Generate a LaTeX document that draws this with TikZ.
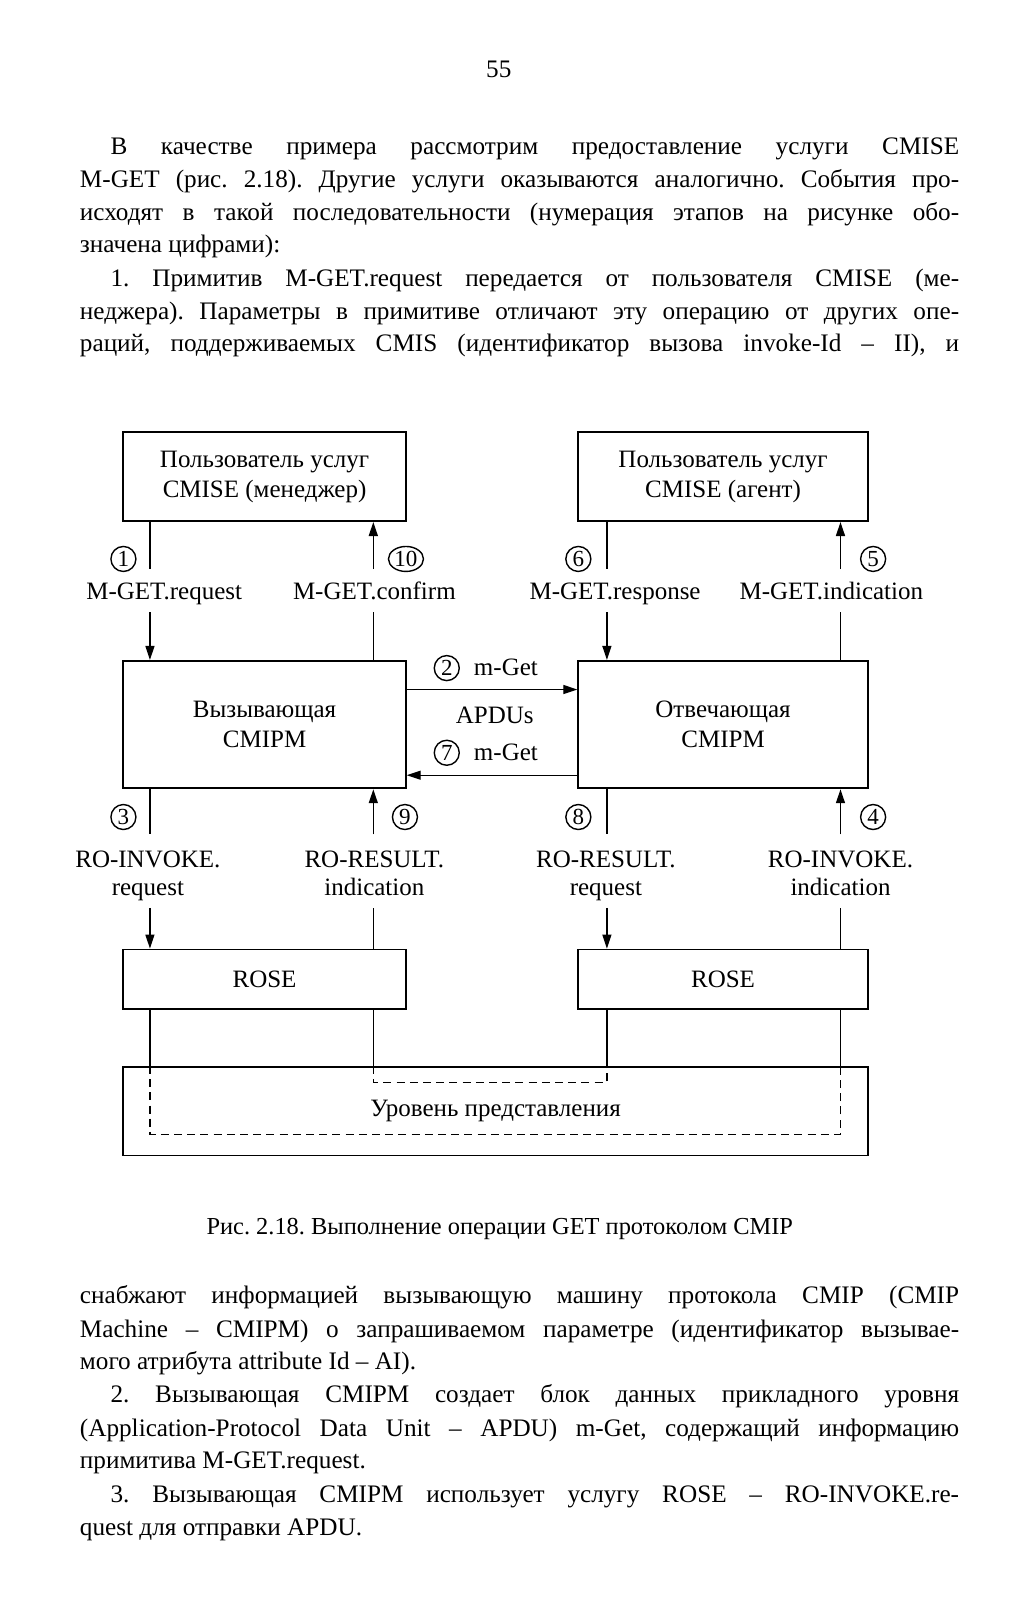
\documentclass[tikz,border=0pt]{standalone}
\usepackage{fontspec}
\setmainfont{Liberation Serif}
\usetikzlibrary{arrows.meta,shapes.geometric}
\frenchspacing
\begin{document}
\begin{tikzpicture}[x=0.51pt,y=-0.51pt,
  box/.style={draw,line width=0.9pt,inner sep=0pt,align=center,anchor=north west,font=\fontsize{12.5}{15}\selectfont},
  lbl/.style={anchor=base,inner sep=0pt,font=\fontsize{12.5}{14.5}\selectfont},
  num/.style={draw,circle,line width=0.7pt,inner sep=0pt,minimum size=12.5pt,font=\fontsize{11.5}{11.5}\selectfont},
  numw/.style={draw,ellipse,line width=0.7pt,inner sep=0pt,minimum width=17.5pt,minimum height=12.5pt,font=\fontsize{11.5}{11.5}\selectfont},
  conn/.style={line width=0.65pt},
  arr/.style={conn,-{Triangle[length=7pt,width=4.5pt]}},
  dsh/.style={line width=0.65pt,dash pattern=on 4pt off 2.6pt},
  body/.style={anchor=base west,inner sep=0pt,font=\fontsize{12.6}{14}\selectfont},
]
\useasboundingbox[fill=white] (0,0) rectangle (996.08,1568.63);

% page number and text
\node[anchor=base,inner sep=0pt,font=\fontsize{12.6}{14}\selectfont] (pg) at (489,76) {55};
\node[body] (t1) at (108,151) {\makebox[424.3pt][s]{В качестве примера рассмотрим предоставление услуги CMISE}};
\node[body] (t2) at (78,184) {\makebox[439.6pt][s]{M-GET (рис. 2.18). Другие услуги оказываются аналогично. События про-}};
\node[body] (t3) at (78,216) {\makebox[439.6pt][s]{исходят в такой последовательности (нумерация этапов на рисунке обо-}};
\node[body] (t4) at (78,248) {значена цифрами):};
\node[body] (t5) at (108,281) {\makebox[424.3pt][s]{1. Примитив M-GET.request передается от пользователя CMISE (ме-}};
\node[body] (t6) at (78,313) {\makebox[439.6pt][s]{неджера). Параметры в примитиве отличают эту операцию от других опе-}};
\node[body] (t7) at (78,345) {\makebox[439.6pt][s]{раций, поддерживаемых CMIS (идентификатор вызова invoke-Id – II), и}};

% boxes
\node[box,minimum width=141.27pt,minimum height=44.37pt] (A) at (120,423) {Пользователь услуг\\CMISE (менеджер)};
\node[box,minimum width=144.84pt,minimum height=44.37pt] (B) at (566,423) {Пользователь услуг\\CMISE (агент)};
\node[box,minimum width=141.27pt,minimum height=63.75pt] (C) at (120,647) {Вызывающая\\CMIPM};
\node[box,minimum width=144.84pt,minimum height=63.75pt] (D) at (566,647) {Отвечающая\\CMIPM};
\node[box,minimum width=141.27pt,minimum height=29.58pt] (E) at (120,930) {ROSE};
\node[box,minimum width=144.84pt,minimum height=29.58pt] (F) at (566,930) {ROSE};
\node[box,minimum width=372.3pt,minimum height=44.37pt] (G) at (120,1045) {Уровень представления};

% labels row 1
\node[num] (n1) at (121,548) {1};
\node[numw] (n10) at (398,548) {10};
\node[num] (n6) at (567,548) {6};
\node[num] (n5) at (856,548) {5};
\node[lbl] (l1) at (161,588) {M-GET.request};
\node[lbl] (l10) at (367,588) {M-GET.confirm};
\node[lbl] (l6) at (603,588) {M-GET.response};
\node[lbl] (l5) at (815,588) {M-GET.indication};

% labels row 2
\node[num] (n3) at (121,801) {3};
\node[num] (n9) at (397,801) {9};
\node[num] (n8) at (567,801) {8};
\node[num] (n4) at (856,801) {4};
\node[lbl] (l3a) at (145,850) {RO-INVOKE.};
\node[lbl] (l3b) at (145,878) {request};
\node[lbl] (l9a) at (367,850) {RO-RESULT.};
\node[lbl] (l9b) at (367,878) {indication};
\node[lbl] (l8a) at (594,850) {RO-RESULT.};
\node[lbl] (l8b) at (594,878) {request};
\node[lbl] (l4a) at (824,850) {RO-INVOKE.};
\node[lbl] (l4b) at (824,878) {indication};

% middle labels
\node[num] (n2) at (438,655) {2};
\node[lbl] (m2) at (496,662) {m-Get};
\node[lbl] (ap) at (485,709) {APDUs};
\node[num] (n7) at (438,738) {7};
\node[lbl] (m7) at (496,746) {m-Get};

% coordinates for connector ends
\coordinate (a1) at (147,558); \coordinate (b1) at (147,600);
\coordinate (a2) at (366,558); \coordinate (b2) at (366,600);
\coordinate (a3) at (595,558); \coordinate (b3) at (595,600);
\coordinate (a4) at (824,558); \coordinate (b4) at (824,600);
\coordinate (c1) at (147,818); \coordinate (d1) at (147,890);
\coordinate (c2) at (366,818); \coordinate (d2) at (366,890);
\coordinate (c3) at (595,818); \coordinate (d3) at (595,890);
\coordinate (c4) at (824,818); \coordinate (d4) at (824,890);
\coordinate (e1) at (147,1112); \coordinate (e4) at (824,1112);
\coordinate (e2) at (366,1061); \coordinate (e3) at (595,1061);
\coordinate (h2) at (0,676); \coordinate (h7) at (0,760);

% row 1 connectors
\draw[conn] (A.south -| a1) -- (a1);
\draw[arr] (b1) -- (C.north -| b1);
\draw[arr] (a2) -- (A.south -| a2);
\draw[conn] (C.north -| b2) -- (b2);
\draw[conn] (B.south -| a3) -- (a3);
\draw[arr] (b3) -- (D.north -| b3);
\draw[arr] (a4) -- (B.south -| a4);
\draw[conn] (D.north -| b4) -- (b4);

% APDU arrows
\draw[arr] (C.east |- h2) -- (D.west |- h2);
\draw[arr] (D.west |- h7) -- (C.east |- h7);

% row 2 connectors
\draw[conn] (C.south -| c1) -- (c1);
\draw[arr] (d1) -- (E.north -| d1);
\draw[arr] (c2) -- (C.south -| c2);
\draw[conn] (E.north -| d2) -- (d2);
\draw[conn] (D.south -| c3) -- (c3);
\draw[arr] (d3) -- (F.north -| d3);
\draw[arr] (c4) -- (D.south -| c4);
\draw[conn] (F.north -| d4) -- (d4);

% down to presentation layer
\draw[conn] (E.south -| e1) -- (G.north -| e1);
\draw[conn] (E.south -| e2) -- (G.north -| e2);
\draw[conn] (F.south -| e3) -- (G.north -| e3);
\draw[conn] (F.south -| e4) -- (G.north -| e4);
\draw[dsh] (G.north -| e1) -- (e1) -- (e4) -- (G.north -| e4);
\draw[dsh] (G.north -| e2) -- (e2) -- (e3) -- (G.north -| e3);

% caption and text below
\node[anchor=base,inner sep=0pt,font=\fontsize{12.2}{13}\selectfont] (cap) at (490,1210) {Рис. 2.18. Выполнение операции GET протоколом CMIP};
\node[body] (u1) at (78,1278) {\makebox[439.6pt][s]{снабжают информацией вызывающую машину протокола CMIP (CMIP}};
\node[body] (u2) at (78,1311) {\makebox[439.6pt][s]{Machine – CMIPM) о запрашиваемом параметре (идентификатор вызывае-}};
\node[body] (u3) at (78,1343) {мого атрибута attribute Id – AI).};
\node[body] (u4) at (108,1375) {\makebox[424.3pt][s]{2. Вызывающая CMIPM создает блок данных прикладного уровня}};
\node[body] (u5) at (78,1408) {\makebox[439.6pt][s]{(Application-Protocol Data Unit – APDU) m-Get, содержащий информацию}};
\node[body] (u6) at (78,1440) {примитива M-GET.request.};
\node[body] (u7) at (108,1473) {\makebox[424.3pt][s]{3. Вызывающая CMIPM использует услугу ROSE – RO-INVOKE.re-}};
\node[body] (u8) at (78,1505) {quest для отправки APDU.};
\end{tikzpicture}
\end{document}
